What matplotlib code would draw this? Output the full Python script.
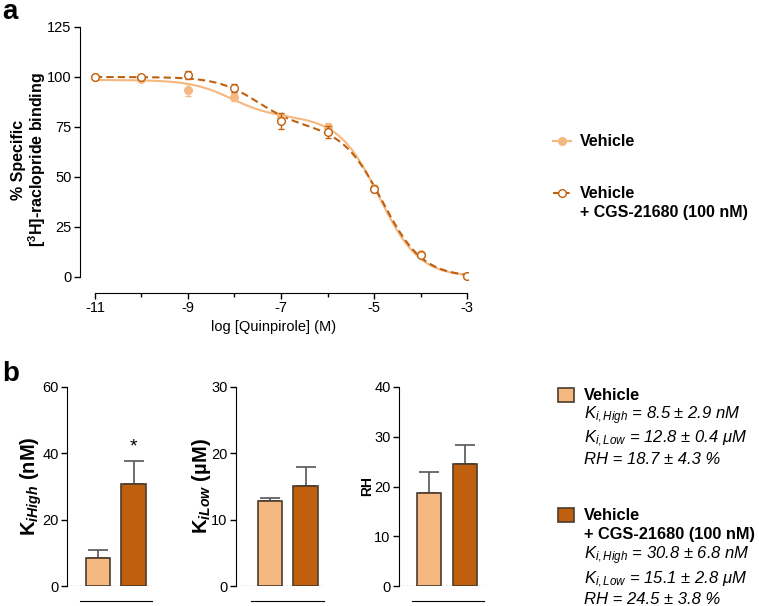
import numpy as np
import matplotlib
matplotlib.use("Agg")
import matplotlib.pyplot as plt
from matplotlib.lines import Line2D

plt.rcParams['font.family'] = ['Liberation Sans', 'DejaVu Sans']
plt.rcParams['axes.unicode_minus'] = False
plt.rcParams['mathtext.fontset'] = 'custom'
plt.rcParams['mathtext.rm'] = 'Liberation Sans'
plt.rcParams['mathtext.it'] = 'Liberation Sans:italic'
plt.rcParams['mathtext.bf'] = 'Liberation Sans:bold'
plt.rcParams['mathtext.bfit'] = 'Liberation Sans:bold:italic'

LIGHT = '#F4B880'
DARK = '#C0600F'
EDGE = '#4a3b2e'

# ---- panel a: competition binding ----
log_conc = [-11, -10, -9, -8, -7, -6, -5, -4, -3]
veh_mean = [100, 99.2, 93.5, 90, 80, 75, 44.5, 11.5, 0.5]
veh_err = [0.5, 1.0, 3.0, 2.0, 2.0, 2.0, 1.0, 0.8, 0.5]
cgs_mean = [100, 100, 101, 94.5, 78, 72.5, 44, 11, 0.5]
cgs_err = [0.5, 1.0, 2.0, 2.0, 4.0, 3.0, 1.5, 0.8, 0.5]

# two-site fit parameters (top, fraction high, logIC50 high, logIC50 low)
veh_fit = (98.5, 0.187, -8.07, -4.89)
cgs_fit = (100.0, 0.245, -7.51, -4.82)

# ---- panel b: bars ----
groups = ['Vehicle', 'Vehicle + CGS-21680 (100 nM)']
ki_high = [8.5, 30.8]
ki_high_err = [2.3, 6.8]
ki_low = [12.8, 15.1]
ki_low_err = [0.4, 2.8]
rh = [18.7, 24.5]
rh_err = [4.3, 3.8]


def two_site(x, top, frac, lh, ll):
    return top * (frac / (1 + 10 ** (x - lh)) + (1 - frac) / (1 + 10 ** (x - ll)))


W, H = 759, 606
fig = plt.figure(figsize=(W / 100, H / 100), dpi=100)


def px_axes(x0, y0, x1, y1):
    return fig.add_axes([x0 / W, 1 - y1 / H, (x1 - x0) / W, (y1 - y0) / H])


ax = px_axes(80, 27, 468, 293)
xs = np.linspace(-11, -3, 400)
ax.plot(xs, two_site(xs, *veh_fit), color=LIGHT, lw=1.5)
ax.plot(xs, two_site(xs, *cgs_fit), color=DARK, lw=1.5, ls=(0, (3.5, 2)))
ax.errorbar(log_conc, veh_mean, yerr=veh_err, fmt='o', color=LIGHT, ms=5.5,
            capsize=2.5, elinewidth=1, zorder=3)
ax.errorbar(log_conc, cgs_mean, yerr=cgs_err, fmt='o', color=DARK, ms=5.5,
            mfc='white', mew=1, capsize=2.5, elinewidth=1, zorder=4)
ax.set_xlim(-11.32, -2.98)
ax.set_ylim(-8, 125)
for s in ['top', 'right']:
    ax.spines[s].set_visible(False)
ax.spines['left'].set_bounds(0, 125)
ax.spines['bottom'].set_bounds(-11, -3)
ax.set_yticks([0, 25, 50, 75, 100, 125])
ax.set_xticks([-11, -9, -7, -5, -3])
ax.set_xticks([-10, -8, -6, -4], minor=True)
ax.tick_params(labelsize=10.5, length=4, width=1, pad=2)
ax.tick_params(which='minor', length=3, width=1)
ax.set_xlabel('log [Quinpirole] (M)', fontsize=10.5, labelpad=3)
ax.set_ylabel('% Specific\n[$\\mathbf{^{3}}$H]-raclopride binding',
              fontsize=11.5, fontweight='bold', labelpad=-1, linespacing=1.02)

# legend panel a
fig.text(580 / W, 1 - 141 / H, 'Vehicle', fontsize=11.5, fontweight='bold', va='center')
fig.text(580 / W, 1 - 193 / H, 'Vehicle', fontsize=11.5, fontweight='bold', va='center')
fig.text(580 / W, 1 - 213 / H, '+ CGS-21680 (100 nM)', fontsize=11.5, fontweight='bold', va='center')
fig.add_artist(Line2D([553 / W, 571 / W], [1 - 141 / H] * 2, color=LIGHT, lw=1.5,
                      transform=fig.transFigure))
fig.add_artist(Line2D([562 / W], [1 - 141 / H], color=LIGHT, marker='o', ms=5.5,
                      transform=fig.transFigure))
fig.add_artist(Line2D([553 / W, 571 / W], [1 - 193 / H] * 2, color=DARK, lw=1.5,
                      ls=(0, (3, 2)), transform=fig.transFigure))
fig.add_artist(Line2D([562 / W], [1 - 193 / H], color=DARK, marker='o', ms=5.5,
                      mfc='white', transform=fig.transFigure))

fig.text(2 / W, 1 - 12 / H, 'a', fontsize=20, fontweight='bold', va='center')
fig.text(2 / W, 1 - 374 / H, 'b', fontsize=20, fontweight='bold', va='center')


# ---- panel b axes ----
def bar_panel(x0, x1, ymax, yticks, vals, errs, xl, line0, ylabel, lsize, lpad):
    a = px_axes(x0, 387, x1, 586)
    a.bar([0, 1], vals, width=0.68, color=[LIGHT, DARK], edgecolor=EDGE,
          lw=1.2, zorder=3)
    for i, (v, e) in enumerate(zip(vals, errs)):
        a.errorbar(i, v, yerr=[[0], [e]], fmt='none', ecolor='#555555',
                   elinewidth=1.2, capsize=7, capthick=1.2, zorder=2)
    a.set_xlim(xl, 1.52)
    a.set_ylim(0, ymax)
    a.axhline(0, ls=':', color='#333333', lw=0.9, zorder=4)
    a.spines['top'].set_visible(False)
    a.spines['right'].set_visible(False)
    a.spines['left'].set_bounds(0, ymax)
    a.spines['bottom'].set_position(('outward', 11))
    a.spines['bottom'].set_bounds(line0, 1.52)
    a.set_xticks([])
    a.set_yticks(yticks)
    a.tick_params(labelsize=10.5, length=4, width=1, pad=2)
    a.set_ylabel(ylabel, fontsize=lsize, fontweight='bold', labelpad=lpad)
    return a


b1 = bar_panel(67, 152, 60, [0, 20, 40, 60], ki_high, ki_high_err, -0.873, -0.51,
               r'K$_{\mathbfit{iHigh}}$ (nM)', 14.5, -1)
b1.text(1, 42, '*', ha='center', va='center', fontsize=14)
b2 = bar_panel(236, 324, 30, [0, 10, 20, 30], ki_low, ki_low_err, -0.958, -0.535,
               r'K$_{\mathbfit{iLow}}$ (µM)', 14.5, -1)
b3 = bar_panel(399, 484, 40, [0, 10, 20, 30, 40], rh, rh_err, -0.833, -0.47,
               'RH', 10, 0)

# legend panel b
for (y0, col) in [(395, LIGHT), (515, DARK)]:
    fig.patches.append(plt.Rectangle((558 / W, 1 - (y0 + 7) / H), 16 / W, 14 / H,
                                     transform=fig.transFigure, facecolor=col,
                                     edgecolor=EDGE, lw=1.2))
tx = 584 / W
fb = 11.8
fi = 12
fig.text(tx, 1 - 396 / H, 'Vehicle', fontsize=fb, fontweight='bold', va='center')
fig.text(tx, 1 - 416 / H, r'$K_{i,High}$ = 8.5 ± 2.9 nM', fontsize=fi, style='italic', va='center')
fig.text(tx, 1 - 439 / H, r'$K_{i,Low}$ = 12.8 ± 0.4 $\mu$M', fontsize=fi, style='italic', va='center')
fig.text(tx, 1 - 460 / H, 'RH = 18.7 ± 4.3 %', fontsize=fi, style='italic', va='center')
fig.text(tx, 1 - 515 / H, 'Vehicle', fontsize=fb, fontweight='bold', va='center')
fig.text(tx, 1 - 535 / H, '+ CGS-21680 (100 nM)', fontsize=fb, fontweight='bold', va='center')
fig.text(tx, 1 - 556 / H, r'$K_{i,High}$ = 30.8 ± 6.8 nM', fontsize=fi, style='italic', va='center')
fig.text(tx, 1 - 580 / H, r'$K_{i,Low}$ = 15.1 ± 2.8 $\mu$M', fontsize=fi, style='italic', va='center')
fig.text(tx, 1 - 600 / H, 'RH = 24.5 ± 3.8 %', fontsize=fi, style='italic', va='center')

fig.savefig('out.png', dpi=100)
